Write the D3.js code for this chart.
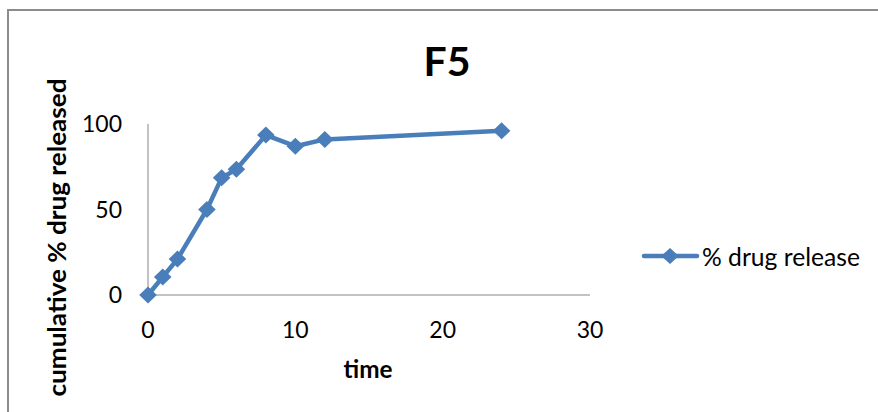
<!DOCTYPE html>
<html><head><meta charset="utf-8">
<script src="https://cdn.jsdelivr.net/npm/d3@7"></script>
<style>body{margin:0;background:#fff}svg{display:block}text{font-family:Lato,"Open Sans",sans-serif}</style>
</head><body><svg id="c" width="878" height="412"></svg>
<script>
const times = [0, 1, 2, 4, 5, 6, 8, 10, 12, 24];
const release = [0, 10.5, 21, 50, 68.5, 73.5, 93.5, 87, 91, 96];
const xTicks = [0, 10, 20, 30];
const yTicks = [0, 50, 100];
const seriesName = "% drug release";
const title = "F5";
const xLabel = "time";
const yLabel = "cumulative % drug released";

const svg = d3.select("#c");
const blue = "#4A7EBB";
svg.append("path").attr("d","M8,412 V10 H878").attr("fill","none").attr("stroke","#8c8c8c").attr("stroke-width",2);

const x = d3.scaleLinear().domain([0,30]).range([148,590]);
const y = d3.scaleLinear().domain([0,100]).range([295,124]);

svg.append("line").attr("x1",x(0)).attr("x2",x(0)).attr("y1",y(100)).attr("y2",y(0)).attr("stroke","#868686");
svg.append("line").attr("x1",x(0)).attr("x2",x(30)).attr("y1",y(0)).attr("y2",y(0)).attr("stroke","#868686");

svg.selectAll(".yt").data(yTicks).enter().append("text")
  .attr("x",122).attr("y",d=>y(d)).attr("dy","0.36em").attr("text-anchor","end")
  .attr("font-size",23).attr("fill","#000").text(d=>d);
svg.selectAll(".xt").data(xTicks).enter().append("text")
  .attr("x",d=>x(d)).attr("y",330).attr("dy","0.36em").attr("text-anchor","middle")
  .attr("font-size",23).attr("fill","#000").text(d=>d);

svg.append("text").attr("x",447).attr("y",76).attr("text-anchor","middle").attr("font-size",41).attr("font-weight","bold").text(title);
svg.append("text").attr("x",368).attr("y",378).attr("text-anchor","middle").attr("font-size",24).attr("font-weight","bold")
  .attr("textLength",49).attr("lengthAdjust","spacingAndGlyphs").text(xLabel);
svg.append("text").attr("transform","translate(66,237.5) rotate(-90)").attr("text-anchor","middle")
  .attr("font-size",24).attr("font-weight","bold").attr("textLength",318).attr("lengthAdjust","spacingAndGlyphs").text(yLabel);

const data = times.map((t,i)=>({t, v: release[i]}));
const line = d3.line().x(d=>x(d.t)).y(d=>y(d.v));
svg.append("path").datum(data).attr("d",line).attr("fill","none").attr("stroke",blue).attr("stroke-width",4.5).attr("stroke-linejoin","round");
const dia = (w,h)=>`M0,${-h}L${w},0L0,${h}L${-w},0Z`;
svg.selectAll(".pt").data(data).enter().append("path")
  .attr("d",dia(8.8,8.5)).attr("transform",d=>`translate(${x(d.t)},${y(d.v)})`).attr("fill",blue);

// legend
svg.append("line").attr("x1",644).attr("x2",697).attr("y1",256).attr("y2",256).attr("stroke",blue).attr("stroke-width",4.5).attr("stroke-linecap","round");
svg.append("path").attr("d",dia(8.8,8)).attr("transform","translate(670,256)").attr("fill",blue);
svg.append("text").attr("x",702).attr("y",266).attr("font-size",25).attr("textLength",158).attr("lengthAdjust","spacingAndGlyphs").text(seriesName);
</script></body></html>
